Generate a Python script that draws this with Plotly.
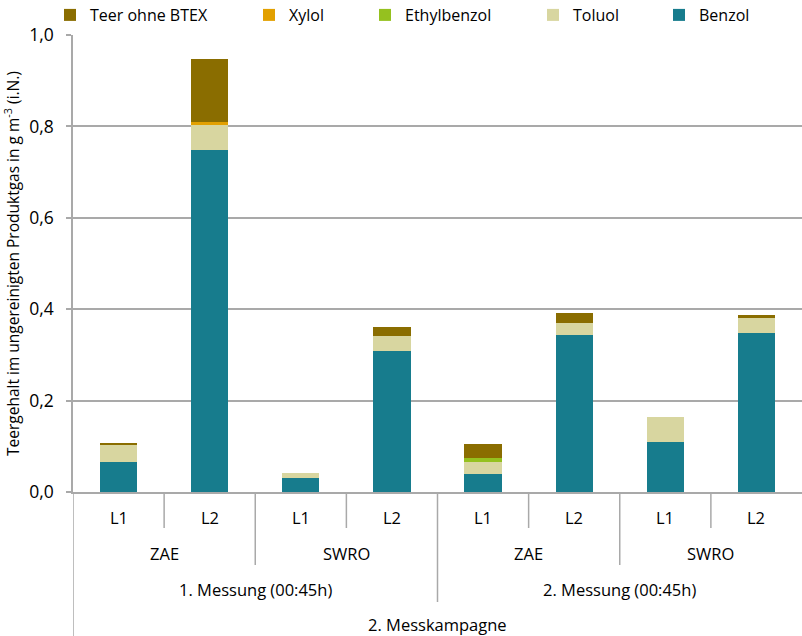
import plotly.graph_objects as go

# ---- data ----
lanes = ["L1", "L2", "L1", "L2", "L1", "L2", "L1", "L2"]
sites = ["ZAE", "SWRO", "ZAE", "SWRO"]
messungen = ["1. Messung (00:45h)", "2. Messung (00:45h)"]
kampagne = ["2. Messkampagne"]

benzol = [0.066, 0.748, 0.031, 0.308, 0.040, 0.343, 0.110, 0.349]
toluol = [0.038, 0.057, 0.010, 0.034, 0.026, 0.027, 0.054, 0.032]
ethylbenzol = [0.0, 0.0, 0.0, 0.0, 0.009, 0.0, 0.0, 0.0]
xylol = [0.0, 0.004, 0.0, 0.0, 0.0, 0.0, 0.0, 0.0]
teer = [0.003, 0.138, 0.0, 0.020, 0.031, 0.022, 0.0, 0.007]

series = [
    ("Benzol", benzol, "#177c8d", "legend5"),
    ("Toluol", toluol, "#d8d6a0", "legend4"),
    ("Ethylbenzol", ethylbenzol, "#95c11f", "legend3"),
    ("Xylol", xylol, "#e2a000", "legend2"),
    ("Teer ohne BTEX", teer, "#8a6d00", "legend"),
]

FONT = "Open Sans"
TXT = "#000000"
GRID = "#a9a9a9"

x = list(range(len(lanes)))

fig = go.Figure()
for name, vals, col, lg in series:
    fig.add_trace(go.Bar(
        x=x, y=vals, name=name, marker=dict(color=col, line=dict(width=0)),
        width=0.41, legend=lg, showlegend=True,
    ))

# plot area geometry (px)
W, H = 802, 636
ml, mr, mt, mb = 73, 0, 35, 144

# legends positioned individually (container coordinates)
legend_text_starts = {"legend": 87, "legend2": 286, "legend3": 402, "legend4": 570, "legend5": 696}
legend_layout = {}
for key, tx in legend_text_starts.items():
    legend_layout[key] = dict(
        x=(tx - 37) / W, xanchor="left", xref="container",
        y=1 - 15 / H, yanchor="middle", yref="container", orientation="h",
        font=dict(family=FONT, size=16, color=TXT),
        bgcolor="rgba(0,0,0,0)", borderwidth=0, visible=True,
    )

annotations = []
shapes = []
lab_font = dict(family=FONT, size=16.5, color=TXT)
# level 1 labels
for i, lab in enumerate(lanes):
    annotations.append(dict(x=i, y=0, xref="x", yref="paper", text=lab, showarrow=False,
                            yshift=-25, yanchor="middle", font=lab_font))
# level 2 labels
for j, lab in enumerate(sites):
    annotations.append(dict(x=2 * j + 0.5, y=0, xref="x", yref="paper", text=lab, showarrow=False,
                            yshift=-61, yanchor="middle", font=lab_font))
# level 3 labels
for k, lab in enumerate(messungen):
    annotations.append(dict(x=4 * k + 1.5, y=0, xref="x", yref="paper", text=lab, showarrow=False,
                            yshift=-97, yanchor="middle", font=lab_font))
# level 4 label
annotations.append(dict(x=(len(lanes) - 1) / 2, y=0, xref="x", yref="paper", text=kampagne[0],
                        showarrow=False, yshift=-132, yanchor="middle", font=lab_font))

# separators
for i in range(len(lanes) - 1):
    b = i + 1
    if b % 4 == 0:
        depth = 110
    elif b % 2 == 0:
        depth = 73
    else:
        depth = 36
    shapes.append(dict(type="line", xref="x", yref="paper", ysizemode="pixel", yanchor=0,
                       x0=i + 0.5, x1=i + 0.5, y0=0, y1=-depth,
                       line=dict(color=GRID, width=1.5)))
shapes.append(dict(type="line", xref="x", yref="paper", ysizemode="pixel", yanchor=0,
                   x0=-0.5, x1=-0.5, y0=0, y1=-mb,
                   line=dict(color=GRID, width=1.5)))

fig.update_layout(
    width=W, height=H,
    margin=dict(l=ml, r=mr, t=mt, b=mb, pad=0, autoexpand=False),
    barmode="stack",
    showlegend=True,
    plot_bgcolor="white", paper_bgcolor="white",
    separators=",.",
    font=dict(family=FONT, color=TXT),
    annotations=annotations,
    shapes=shapes,
    **legend_layout,
)
fig.update_xaxes(
    range=[-0.5, len(lanes) - 0.5], showticklabels=False, showgrid=False,
    showline=True, linecolor=GRID, linewidth=1.5, zeroline=False, ticks="",
)
fig.update_yaxes(
    range=[0, 1.0], dtick=0.2, tick0=0, tickformat=".1f",
    showgrid=True, gridcolor=GRID, gridwidth=1.5,
    showline=True, linecolor=GRID, linewidth=1.5,
    ticks="outside", ticklen=5, tickcolor=GRID, tickwidth=1.5,
    ticklabelstandoff=9,
    zeroline=False,
    tickfont=dict(family=FONT, size=17.5, color=TXT),
    title=dict(text="Teergehalt im ungereinigten Produktgas in g m<sup>-3</sup> (i.N.)",
               font=dict(family=FONT, size=15.5, color=TXT), standoff=9),
)

fig.write_html("out.html", config={"displayModeBar": False},
               post_script="document.body.style.margin='0';document.body.style.padding='0';")
